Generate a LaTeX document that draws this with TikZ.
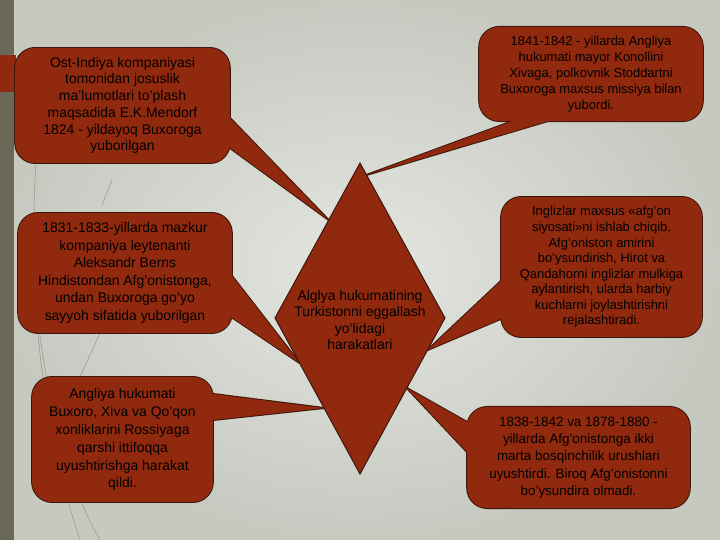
\documentclass[tikz,border=0pt]{standalone}
\usepackage{fontspec}
\setmainfont{Liberation Sans}
\usetikzlibrary{calc}
\pgfdeclarelayer{canvas}
\pgfdeclarelayer{background}
\pgfsetlayers{canvas,background,main}
\definecolor{boxred}{RGB}{145,41,15}
\definecolor{boxline}{RGB}{60,22,10}
\definecolor{barcol}{RGB}{108,104,87}
\definecolor{bgin}{RGB}{228,231,224}
\definecolor{bgout}{RGB}{198,201,192}
\definecolor{decocol}{RGB}{135,135,125}
\begin{document}
\begin{tikzpicture}[x=1bp,y=1bp,
  calltext/.style={inner sep=0pt, align=center, text=black},
  outline/.style={draw=boxline, line width=2bp, line join=round},
  infill/.style={fill=boxred},
  decoline/.style={draw=decocol, line width=0.6bp, opacity=0.7}]
\useasboundingbox (0,0) rectangle (720,540);
\begin{pgfonlayer}{canvas}
\shade[inner color=bgin, outer color=bgout] (0,0) rectangle (720,540);
\fill[barcol] (0,0) rectangle (14,540);
% decorative background lines
\draw[decoline] (36,377) .. controls (28,250) and (40,120) .. (80,0);
\draw[decoline] (33,300) .. controls (36,180) and (60,70) .. (100,0);
\draw[decoline] (100,207) -- (80,163);
\draw[decoline] (112,360) -- (102,335);
\fill[boxred] (0,448) rectangle (16,485);
\end{pgfonlayer}

% diamond geometry
\coordinate (dT) at (360,377);
\coordinate (dL) at (275,222);
\coordinate (dR) at (445,222);
\coordinate (dB) at (360,66);
\coordinate (t1) at ($(dT)!0.368!(dL)$);
\coordinate (t2) at ($(dT)!0.077!(dR)$);
\coordinate (t3) at ($(dL)!0.288!(dB)$);
\coordinate (t4) at ($(dR)!0.205!(dB)$);
\coordinate (t5) at ($(dL)!0.577!(dB)$);
\coordinate (t6) at ($(dR)!0.449!(dB)$);

% callout texts
\node[calltext, minimum width=215, minimum height=115, font=\fontsize{14}{16.8}\selectfont] (c1) at (122.5,434.5)
 {Ost-Indiya kompaniyasi\\tomonidan josuslik\\ma'lumotlari to'plash\\maqsadida E.K.Mendorf\\1824 - yildayoq Buxoroga\\yuborilgan};
\node[calltext, minimum width=224, minimum height=94, font=\fontsize{13}{16}\selectfont] (c2) at (591,466)
 {1841-1842 - yillarda Angliya\\hukumati mayor Konollini\\Xivaga, polkovnik Stoddartni\\Buxoroga maxsus missiya bilan\\yubordi.};
\node[calltext, minimum width=214, minimum height=120, font=\fontsize{14}{17.6}\selectfont] (c3) at (125,267)
 {1831-1833-yillarda mazkur\\kompaniya leytenanti\\Aleksandr Berns\\Hindistondan Afg'onistonga,\\undan Buxoroga go'yo\\sayyoh sifatida yuborilgan};
\node[calltext, minimum width=201, minimum height=140, font=\fontsize{13}{15.6}\selectfont] (c4) at (601.5,273)
 {Inglizlar maxsus «afg'on\\siyosati»ni ishlab chiqib,\\Afg'oniston amirini\\bo'ysundirish, Hirot va\\Qandahorni inglizlar mulkiga\\aylantirish, ularda harbiy\\kuchlarni joylashtirishni\\rejalashtiradi.};
\node[calltext, minimum width=181, minimum height=125, font=\fontsize{14}{18}\selectfont] (c5) at (122.5,100.5)
 {Angliya hukumati\\Buxoro, Xiva va Qo'qon\\xonliklarini Rossiyaga\\qarshi ittifoqqa\\uyushtirishga harakat\\qildi.};
\node[calltext, minimum width=223, minimum height=101, font=\fontsize{13.5}{17.3}\selectfont] (c6) at (578.5,82.5)
 {1838-1842 va 1878-1880 -\\yillarda Afg'onistonga ikki\\marta bosqinchilik urushlari\\uyushtirdi. Biroq Afg'onistonni\\bo'ysundira olmadi.};
\node[calltext, font=\fontsize{14}{16.7}\selectfont] (d) at (360,220)
 {Alglya hukumatining\\Turkistonni eggallash\\yo`lidagi\\harakatlari};

% base points of the pointers on the boxes
\coordinate (bc1a) at (230,422); \coordinate (bc1b) at (230,392);
\coordinate (bc2a) at (513,419); \coordinate (bc2b) at (548,419);
\coordinate (bc3a) at (232,264); \coordinate (bc3b) at (224,228);
\coordinate (bc4a) at (502,260); \coordinate (bc4b) at (503,222);
\coordinate (bc5a) at (213,146); \coordinate (bc5b) at (213,120);
\coordinate (bc6a) at (467,118); \coordinate (bc6b) at (467,88);

\begin{pgfonlayer}{background}
\foreach \c/\t in {c1/t1,c2/t2,c3/t3,c4/t4,c5/t5,c6/t6}{
  \path[outline, rounded corners=20bp] (\c.south west) rectangle (\c.north east);
  \path[outline] ($(\t)!1.2!(b\c a)$) -- (\t) -- ($(\t)!1.2!(b\c b)$) -- cycle;
}
\foreach \c/\t in {c1/t1,c2/t2,c3/t3,c4/t4,c5/t5,c6/t6}{
  \path[infill, rounded corners=20bp] (\c.south west) rectangle (\c.north east);
  \path[infill] ($(\t)!1.2!(b\c a)$) -- (\t) -- ($(\t)!1.2!(b\c b)$) -- cycle;
}
\path[fill=boxred, draw=boxline, line width=1bp] (dT) -- (dR) -- (dB) -- (dL) -- cycle;
\end{pgfonlayer}
\end{tikzpicture}
\end{document}
